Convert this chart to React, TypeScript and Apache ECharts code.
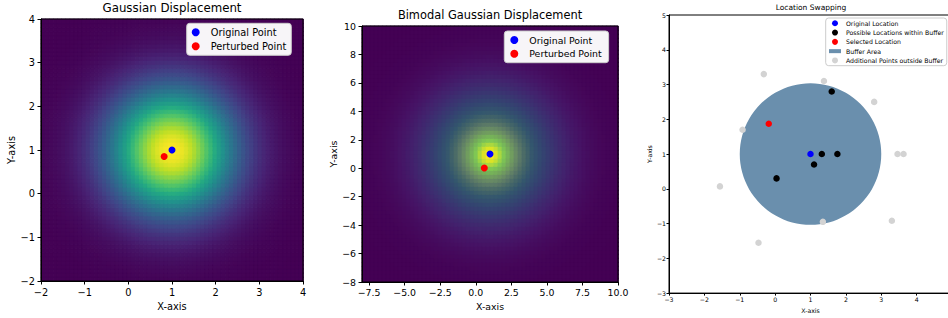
import React, { useEffect, useRef } from "react";
import * as echarts from "echarts";

// ---------- Panel 1: Gaussian displacement ----------
const P1_X_RANGE = [-2, 4];
const P1_Y_RANGE = [-2, 4];
const P1_CENTER = [1, 1];
const P1_SIGMA = 1;
const P1_ORIGINAL = [[1, 1]];
const P1_PERTURBED = [[0.82, 0.85]];

// ---------- Panel 2: Bimodal Gaussian displacement ----------
const P2_X_RANGE = [-8, 10];
const P2_Y_RANGE = [-8, 10];
const P2_CENTER = [1, 1];
const P2_SIGMAS = [1, 3];
const P2_ORIGINAL = [[1, 1]];
const P2_PERTURBED = [[0.6, 0.02]];
const P2_X_TICKS = [-7.5, -5, -2.5, 0, 2.5, 5, 7.5, 10];

// ---------- Panel 3: Location swapping ----------
const P3_ORIGINAL = [[1, 1]];
const P3_BUFFER = [[1, 1, 2]]; // center x, center y, radius
const P3_POSSIBLE = [
  [1.32, 1.0],
  [1.76, 1.0],
  [1.1, 0.7],
  [0.04, 0.3],
  [1.6, 2.8],
];
const P3_SELECTED = [[-0.18, 1.87]];
const P3_OUTSIDE = [
  [-0.32, 3.3],
  [1.38, 3.1],
  [2.8, 2.5],
  [-0.92, 1.7],
  [3.46, 1.0],
  [3.63, 1.0],
  [-1.56, 0.07],
  [1.35, -0.95],
  [3.3, -0.92],
  [-0.47, -1.55],
];

const GRID_CELLS = 64;

const VIRIDIS = [
  "#440154", "#482475", "#414487", "#355f8d", "#2a788e", "#21918c",
  "#22a884", "#44bf70", "#7ad151", "#bddf26", "#fde725",
];
const VIR_RGB = VIRIDIS.map((h) => [
  parseInt(h.slice(1, 3), 16),
  parseInt(h.slice(3, 5), 16),
  parseInt(h.slice(5, 7), 16),
]);
function viridisRGB(t: number) {
  const v = Math.max(0, Math.min(1, t)) * (VIR_RGB.length - 1);
  const i = Math.min(VIR_RGB.length - 2, Math.floor(v));
  const f = v - i;
  const a = VIR_RGB[i], b = VIR_RGB[i + 1];
  return [a[0] + (b[0] - a[0]) * f, a[1] + (b[1] - a[1]) * f, a[2] + (b[2] - a[2]) * f];
}
function rgb(c: number[]) {
  return `rgb(${Math.round(c[0])},${Math.round(c[1])},${Math.round(c[2])})`;
}

function gaussCells(xr: number[], yr: number[], center: number[], sigmas: number[]) {
  const out: number[][] = [];
  const dx = (xr[1] - xr[0]) / GRID_CELLS;
  const dy = (yr[1] - yr[0]) / GRID_CELLS;
  for (let i = 0; i < GRID_CELLS; i++) {
    for (let j = 0; j < GRID_CELLS; j++) {
      const x0 = xr[0] + i * dx, y0 = yr[0] + j * dy;
      const xc = x0 + dx / 2 - center[0], yc = y0 + dy / 2 - center[1];
      const r2 = xc * xc + yc * yc;
      const vals = sigmas.map((s) => Math.exp(-r2 / (2 * s * s)));
      out.push([x0, y0, x0 + dx, y0 + dy, ...vals]);
    }
  }
  return out;
}

const FONT = "DejaVu Sans";
const minus = (s: string) => s.replace("-", "\u2212");

function cellRenderer(blend: boolean) {
  return (params: any, api: any) => {
    const p0 = api.coord([api.value(0), api.value(3)]);
    const p1 = api.coord([api.value(2), api.value(1)]);
    let c = viridisRGB(api.value(4));
    if (blend) {
      const c2 = viridisRGB(api.value(5));
      c = [(c[0] + c2[0]) / 2, (c[1] + c2[1]) / 2, (c[2] + c2[2]) / 2];
    }
    const col = rgb(c);
    return {
      type: "rect",
      shape: { x: p0[0], y: p0[1], width: p1[0] - p0[0] + 0.5, height: p1[1] - p0[1] + 0.5 },
      style: { fill: col, stroke: col, lineWidth: 0.7 },
    };
  };
}

function axisCommon(fs: number, tickLen: number, margin: number) {
  return {
    type: "value",
    axisLine: { show: true, onZero: false, lineStyle: { color: "#000", width: 1 } },
    axisTick: { show: true, length: tickLen, lineStyle: { color: "#000", width: 1 } },
    splitLine: { show: false },
    axisLabel: { color: "#000", fontSize: fs, fontFamily: FONT, margin },
    nameLocation: "middle",
    nameTextStyle: { color: "#000", fontSize: fs, fontFamily: FONT },
    z: 5,
  };
}

export default function App() {
  const ref = useRef<HTMLDivElement>(null);
  useEffect(() => {
    if (!ref.current) return;
    const chart = echarts.init(ref.current, undefined, { renderer: "svg" });
    const c1 = gaussCells(P1_X_RANGE, P1_Y_RANGE, P1_CENTER, [P1_SIGMA]);
    const c2 = gaussCells(P2_X_RANGE, P2_Y_RANGE, P2_CENTER, P2_SIGMAS);

    const gridBase = {
      show: true,
      backgroundColor: "transparent",
      borderColor: "#000",
      borderWidth: 1,
      z: 10,
      containLabel: false,
    };

    const legendBase = {
      orient: "vertical",
      backgroundColor: "rgba(255,255,255,0.96)",
      borderColor: "#cccccc",
      borderWidth: 1,
      borderRadius: 3,
      icon: "circle",
      selectedMode: false,
      z: 20,
    };

    const option: any = {
      animation: false,
      backgroundColor: "#fff",
      title: [
        { text: "Gaussian Displacement", left: 172, top: 2, textAlign: "center", padding: 0,
          textStyle: { fontSize: 11.8, fontWeight: "normal", color: "#000", fontFamily: FONT } },
        { text: "Bimodal Gaussian Displacement", left: 490, top: 9, textAlign: "center", padding: 0,
          textStyle: { fontSize: 11.4, fontWeight: "normal", color: "#000", fontFamily: FONT } },
        { text: "Location Swapping", left: 811, top: 3.5, textAlign: "center", padding: 0,
          textStyle: { fontSize: 7.5, fontWeight: "normal", color: "#000", fontFamily: FONT } },
      ],
      grid: [
        { ...gridBase, left: 41, top: 19, width: 262, height: 262 },
        { ...gridBase, left: 362, top: 26, width: 256, height: 256 },
        { ...gridBase, left: 669, top: 15, width: 283, height: 280 },
      ],
      xAxis: [
        { ...axisCommon(9.8, 3.5, 6), gridIndex: 0, min: P1_X_RANGE[0], max: P1_X_RANGE[1], interval: 1,
          name: "X-axis", nameGap: 18,
          axisLabel: { ...axisCommon(9.8, 3.5, 6).axisLabel, formatter: (v: number) => minus(String(v)) } },
        { ...axisCommon(9.4, 3.5, 6), gridIndex: 1, min: P2_X_RANGE[0], max: P2_X_RANGE[1],
          name: "X-axis", nameGap: 18,
          axisTick: { ...axisCommon(9.4, 3.5, 6).axisTick, customValues: P2_X_TICKS },
          axisLabel: { ...axisCommon(9.4, 3.5, 6).axisLabel, customValues: P2_X_TICKS,
            formatter: (v: number) => minus(v.toFixed(1)) } },
        { ...axisCommon(6.2, 2.5, 3), gridIndex: 2, min: -3, max: 5, interval: 1,
          name: "X-axis", nameGap: 11,
          axisLabel: { ...axisCommon(6.2, 2.5, 3).axisLabel, showMaxLabel: false,
            formatter: (v: number) => minus(String(v)) } },
      ],
      yAxis: [
        { ...axisCommon(9.8, 3.5, 6), gridIndex: 0, min: P1_Y_RANGE[0], max: P1_Y_RANGE[1], interval: 1,
          name: "Y-axis", nameGap: 25,
          axisLabel: { ...axisCommon(9.8, 3.5, 6).axisLabel, formatter: (v: number) => minus(String(v)) } },
        { ...axisCommon(9.4, 3.5, 6), gridIndex: 1, min: P2_Y_RANGE[0], max: P2_Y_RANGE[1], interval: 2,
          name: "Y-axis", nameGap: 24,
          axisLabel: { ...axisCommon(9.4, 3.5, 6).axisLabel, formatter: (v: number) => minus(String(v)) } },
        { ...axisCommon(6.2, 2.5, 3), gridIndex: 2, min: -3, max: 5, interval: 1,
          name: "Y-axis", nameGap: 16,
          axisLabel: { ...axisCommon(6.2, 2.5, 3).axisLabel, formatter: (v: number) => minus(String(v)) } },
      ],
      legend: [
        { ...legendBase, left: 186.7, top: 23.3, padding: [3, 5, 3, 5], itemWidth: 20, itemHeight: 8, itemGap: 2,
          textStyle: { fontSize: 9.8, lineHeight: 12, color: "#000", fontFamily: FONT },
          data: ["Original Point", "Perturbed Point"] },
        { ...legendBase, left: 504.3, top: 31, padding: [3, 4, 3, 6], itemWidth: 20, itemHeight: 8, itemGap: 1.7,
          textStyle: { fontSize: 9.4, lineHeight: 12, color: "#000", fontFamily: FONT },
          data: ["Original Point ", "Perturbed Point "] },
        { ...legendBase, left: 825.7, top: 18, padding: [1.5, 3, 1.5, 3.3], itemWidth: 12, itemHeight: 6, itemGap: 1.8,
          textStyle: { fontSize: 6.2, lineHeight: 7.5, color: "#000", fontFamily: FONT },
          data: [
            { name: "Original Location" },
            { name: "Possible Locations within Buffer" },
            { name: "Selected Location" },
            { name: "Buffer Area", icon: "path://M0,0H12V4H0Z" },
            { name: "Additional Points outside Buffer" },
          ] },
      ],
      series: [
        { type: "custom", name: "heat1", xAxisIndex: 0, yAxisIndex: 0, data: c1, z: 1,
          renderItem: cellRenderer(false), silent: true },
        { type: "scatter", name: "Original Point", xAxisIndex: 0, yAxisIndex: 0, data: P1_ORIGINAL,
          symbolSize: 7, itemStyle: { color: "#0000ff", opacity: 1 }, z: 3 },
        { type: "scatter", name: "Perturbed Point", xAxisIndex: 0, yAxisIndex: 0, data: P1_PERTURBED,
          symbolSize: 7, itemStyle: { color: "#ff0000", opacity: 1 }, z: 3 },

        { type: "custom", name: "heat2", xAxisIndex: 1, yAxisIndex: 1, data: c2, z: 1,
          renderItem: cellRenderer(true), silent: true },
        { type: "scatter", name: "Original Point ", xAxisIndex: 1, yAxisIndex: 1, data: P2_ORIGINAL,
          symbolSize: 7, itemStyle: { color: "#0000ff", opacity: 1 }, z: 3 },
        { type: "scatter", name: "Perturbed Point ", xAxisIndex: 1, yAxisIndex: 1, data: P2_PERTURBED,
          symbolSize: 7, itemStyle: { color: "#ff0000", opacity: 1 }, z: 3 },

        { type: "custom", name: "Buffer Area", xAxisIndex: 2, yAxisIndex: 2, data: P3_BUFFER, z: 1,
          itemStyle: { color: "#6a8fad" },
          renderItem: (params: any, api: any) => {
            const c = api.coord([api.value(0), api.value(1)]);
            const r = api.size([api.value(2), 0])[0];
            return { type: "circle", shape: { cx: c[0], cy: c[1], r }, style: { fill: "#6a8fad" } };
          } },
        { type: "scatter", name: "Additional Points outside Buffer", xAxisIndex: 2, yAxisIndex: 2,
          data: P3_OUTSIDE, symbolSize: 6.5, itemStyle: { color: "#d3d3d3", opacity: 1 }, z: 2 },
        { type: "scatter", name: "Possible Locations within Buffer", xAxisIndex: 2, yAxisIndex: 2,
          data: P3_POSSIBLE, symbolSize: 6.5, itemStyle: { color: "#000000", opacity: 1 }, z: 3 },
        { type: "scatter", name: "Original Location", xAxisIndex: 2, yAxisIndex: 2,
          data: P3_ORIGINAL, symbolSize: 6.5, itemStyle: { color: "#0000ff", opacity: 1 }, z: 3 },
        { type: "scatter", name: "Selected Location", xAxisIndex: 2, yAxisIndex: 2,
          data: P3_SELECTED, symbolSize: 6.5, itemStyle: { color: "#ff0000", opacity: 1 }, z: 3 },
      ],
    };
    chart.setOption(option);
    return () => chart.dispose();
  }, []);
  return (
    <div style={{ position: "absolute", left: 0, top: 0, width: 948, height: 318, overflow: "hidden", background: "#fff" }}>
      <div ref={ref} style={{ width: 972, height: 318 }} />
    </div>
  );
}
